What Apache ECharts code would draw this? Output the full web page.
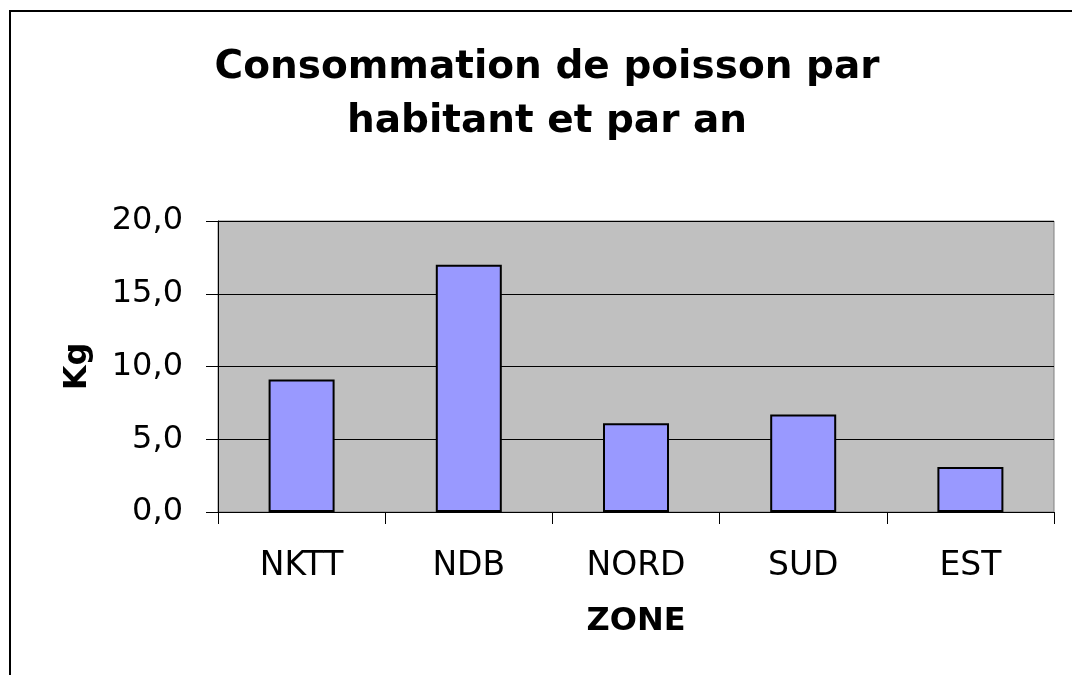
<!DOCTYPE html>
<html>
<head>
<meta charset="utf-8">
<script src="https://cdn.jsdelivr.net/npm/echarts@6/dist/echarts.min.js"></script>
<style>
html,body{margin:0;padding:0;background:#fff;}
#chart{width:1072px;height:675px;}
</style>
</head>
<body>
<div id="chart"></div>
<script>
const titleText = 'Consommation de poisson par\nhabitant et par an';
const categories = ['NKTT', 'NDB', 'NORD', 'SUD', 'EST'];
const values = [9.1, 17.0, 6.1, 6.7, 3.1];
const yAxisName = 'Kg';
const xAxisName = 'ZONE';

const FONT = '"DejaVu Sans", "Liberation Sans", Arial, sans-serif';
const chart = echarts.init(document.getElementById('chart'), null, {renderer: 'canvas'});
chart.setOption({
  animation: false,
  backgroundColor: '#ffffff',
  graphic: [
    {
      type: 'rect',
      shape: {x: 10, y: 11, width: 1200, height: 800},
      style: {fill: 'none', stroke: '#000', lineWidth: 2},
      silent: true
    },
    {
      type: 'text',
      x: 547,
      y: 41,
      style: {
        text: titleText,
        fill: '#000',
        font: 'bold 39px ' + FONT,
        textAlign: 'center',
        textVerticalAlign: 'top',
        lineHeight: 54
      }
    }
  ],
  grid: {
    left: 218, right: 18, top: 221, bottom: 163,
    show: true,
    backgroundColor: '#c0c0c0',
    borderColor: '#808080',
    borderWidth: 1
  },
  xAxis: {
    type: 'category',
    data: categories,
    name: xAxisName,
    nameLocation: 'middle',
    nameGap: 94,
    nameTextStyle: {fontFamily: FONT, fontWeight: 'bold', fontSize: 32, color: '#000', verticalAlign: 'top'},
    axisLine: {show: true, lineStyle: {color: '#000', width: 1}},
    axisTick: {show: true, length: 12, alignWithLabel: false, lineStyle: {color: '#000', width: 1}},
    axisLabel: {fontFamily: FONT, fontSize: 33, color: '#000', margin: 38},
    splitLine: {show: false}
  },
  yAxis: {
    type: 'value',
    min: 0, max: 20, interval: 5,
    name: yAxisName,
    nameLocation: 'middle',
    nameGap: 124,
    nameRotate: 90,
    nameTextStyle: {fontFamily: FONT, fontWeight: 'bold', fontSize: 32, color: '#000'},
    axisLine: {show: true, lineStyle: {color: '#000', width: 1}},
    axisTick: {show: true, length: 12, inside: false, lineStyle: {color: '#000', width: 1}},
    axisLabel: {
      fontFamily: FONT, fontSize: 32, color: '#000', margin: 35,
      formatter: function (v) { return v.toFixed(1).replace('.', ','); }
    },
    splitLine: {show: true, lineStyle: {color: '#000', width: 1}}
  },
  series: [{
    type: 'bar',
    data: values,
    barWidth: 66,
    itemStyle: {color: '#9999ff', borderColor: '#000', borderWidth: 2}
  }]
});
</script>
</body>
</html>
